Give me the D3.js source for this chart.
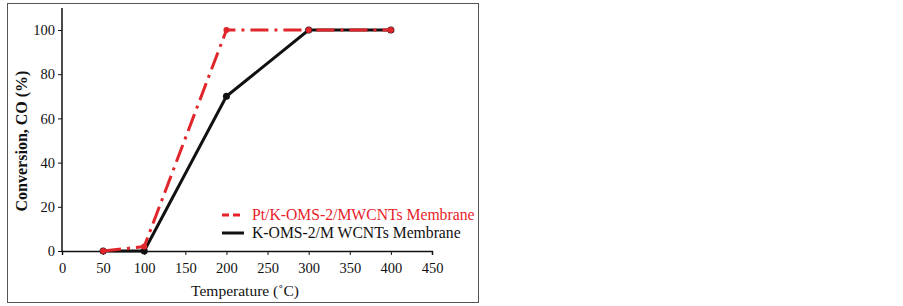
<!DOCTYPE html>
<html lang="en">
<head>
    <meta charset="utf-8">
    <title>CO conversion</title>
    <script src="https://d3js.org/d3.v7.min.js"></script>
    <style>
        body { margin: 0; background: #fff; }
    </style>
</head>
<body>
<div id="chart"></div>
<script>
    // Data
    const temperatures = [50, 100, 200, 300, 400];
    const ptSeries = [0, 2, 100, 100, 100];       // Pt/K-OMS-2/MWCNTs Membrane
    const kSeries = [0, 0, 70, 100, 100];         // K-OMS-2/M WCNTs Membrane
    const xTicks = [0, 50, 100, 150, 200, 250, 300, 350, 400, 450];
    const yTicks = [0, 20, 40, 60, 80, 100];
    const legendLabels = ["Pt/K-OMS-2/MWCNTs Membrane", "K-OMS-2/M WCNTs Membrane"];

    const W = 903, H = 306;
    const red = "#e0262b";
    const serif = "'Liberation Serif', 'Times New Roman', serif";

    const svg = d3.select("#chart")
        .append("svg")
        .attr("width", W)
        .attr("height", H);

    // outer frame
    svg.append("rect")
        .attr("x", 7.5).attr("y", 3.5)
        .attr("width", 471).attr("height", 299)
        .attr("fill", "none")
        .attr("stroke", "#555")
        .attr("stroke-width", 1);

    const x = d3.scaleLinear().domain([0, 450]).range([62, 432]);
    const y = d3.scaleLinear().domain([0, 100]).range([251, 30]);

    // x axis
    const xAxis = svg.append("g")
        .attr("transform", `translate(0,${y(0)})`)
        .call(d3.axisBottom(x).tickValues(xTicks).tickSize(4).tickPadding(8));
    // y axis
    const yAxis = svg.append("g")
        .attr("transform", `translate(${x(0)},0)`)
        .call(d3.axisLeft(y).tickValues(yTicks).tickSize(4).tickPadding(3));

    [xAxis, yAxis].forEach(g => {
        g.select(".domain").attr("stroke", "#111").attr("stroke-width", 1.5);
        g.selectAll(".tick line").attr("stroke", "#111");
        g.selectAll(".tick text")
            .attr("fill", "#111")
            .style("font-family", serif)
            .style("font-size", "14.5px");
    });
    // extend y axis line above 100
    yAxis.select(".domain").attr("d", `M0,${y(0)}V8`);

    // axis titles
    svg.append("text")
        .attr("x", 245).attr("y", 296)
        .attr("text-anchor", "middle")
        .style("font-family", serif)
        .style("font-size", "15.5px")
        .attr("fill", "#111")
        .text("Temperature (˚C)");

    svg.append("text")
        .attr("transform", `translate(27,141) rotate(-90)`)
        .attr("text-anchor", "middle")
        .style("font-family", serif)
        .style("font-size", "16px")
        .style("font-weight", "bold")
        .attr("fill", "#111")
        .text("Conversion, CO (%)");

    const line = d3.line()
        .x(d => x(d[0]))
        .y(d => y(d[1]));

    const kData = temperatures.map((t, i) => [t, kSeries[i]]);
    const ptData = temperatures.map((t, i) => [t, ptSeries[i]]);

    // black series (under)
    svg.append("path")
        .datum(kData)
        .attr("d", line)
        .attr("fill", "none")
        .attr("stroke", "#111")
        .attr("stroke-width", 3);
    svg.append("g")
        .selectAll("circle")
        .data(kData)
        .join("circle")
        .attr("cx", d => x(d[0]))
        .attr("cy", d => y(d[1]))
        .attr("r", 3.5)
        .attr("fill", "#111");

    // red dash-dot series (on top)
    svg.append("path")
        .datum(ptData)
        .attr("d", line)
        .attr("fill", "none")
        .attr("stroke", red)
        .attr("stroke-width", 3)
        .attr("stroke-dasharray", "18,6,3,6");
    svg.append("g")
        .selectAll("circle")
        .data(ptData)
        .join("circle")
        .attr("cx", d => x(d[0]))
        .attr("cy", d => y(d[1]))
        .attr("r", 3)
        .attr("fill", red);

    // legend
    const legend = svg.append("g");
    const legendColors = ["#e8222a", "#111"];
    const legendDash = ["7,4", null];
    legendLabels.forEach((label, i) => {
        const ly = 215 + i * 18;
        legend.append("line")
            .attr("x1", 222).attr("x2", 244)
            .attr("y1", ly).attr("y2", ly)
            .attr("stroke", legendColors[i])
            .attr("stroke-width", 3)
            .attr("stroke-dasharray", legendDash[i]);
        legend.append("text")
            .attr("x", 252).attr("y", ly + 5)
            .attr("fill", legendColors[i])
            .style("font-family", serif)
            .style("font-size", "15.7px")
            .text(label);
    });
</script>
</body>
</html>
